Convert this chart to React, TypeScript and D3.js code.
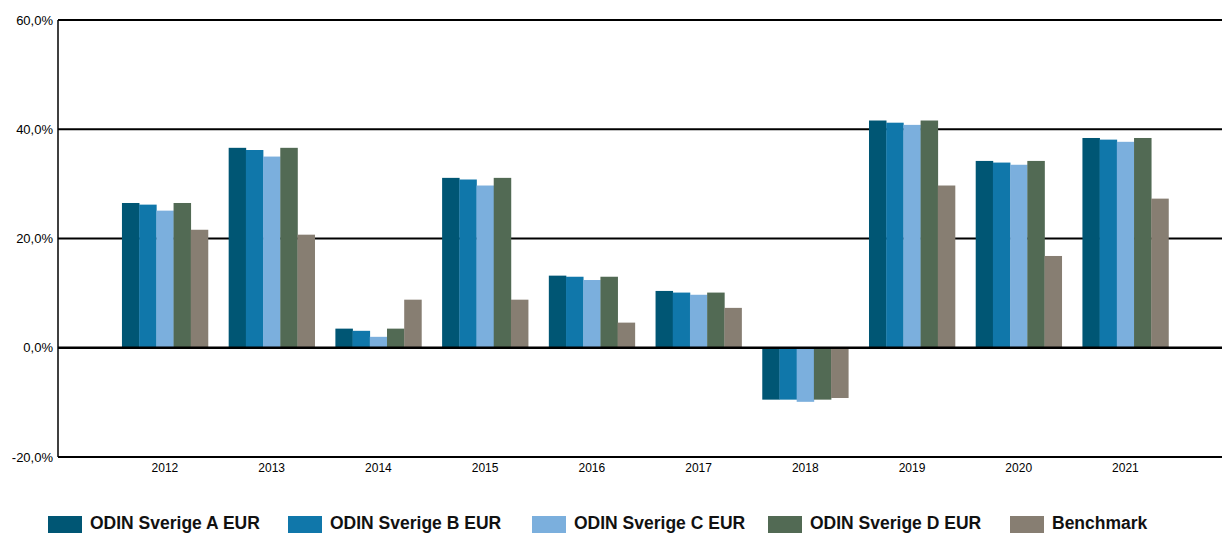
import React from "react";
import * as d3 from "d3";

const years = ["2012", "2013", "2014", "2015", "2016", "2017", "2018", "2019", "2020", "2021"];
const seriesNames = ["ODIN Sverige A EUR", "ODIN Sverige B EUR", "ODIN Sverige C EUR", "ODIN Sverige D EUR", "Benchmark"];
const seriesColors = ["#005674", "#1077AA", "#7BAFDD", "#526A54", "#877E72"];
const sverigeA = [26.5, 36.6, 3.5, 31.1, 13.2, 10.4, -9.5, 41.6, 34.2, 38.4];
const sverigeB = [26.2, 36.2, 3.1, 30.8, 13.0, 10.1, -9.5, 41.2, 33.9, 38.1];
const sverigeC = [25.1, 35.0, 2.0, 29.7, 12.4, 9.7, -9.9, 40.8, 33.5, 37.7];
const sverigeD = [26.5, 36.6, 3.5, 31.1, 13.0, 10.1, -9.5, 41.6, 34.2, 38.4];
const benchmark = [21.6, 20.7, 8.8, 8.8, 4.6, 7.3, -9.2, 29.7, 16.8, 27.3];
const yTicks = [-20, 0, 20, 40, 60];

const W = 1222;
const H = 533;

export default function App() {
  const series = [sverigeA, sverigeB, sverigeC, sverigeD, benchmark];
  const y = d3.scaleLinear().domain([-20, 60]).range([457, 20]);
  const x0 = d3.scaleBand<string>().domain(years).range([111.6, 1178.8]).paddingInner(0.194).paddingOuter(0.097);
  const x1 = d3.scaleBand<number>().domain(d3.range(series.length)).range([0, x0.bandwidth()]);
  const fmt = (v: number) => v.toFixed(1).replace(".", ",") + "%";
  const plotLeft = 58;
  const plotRight = W;

  const legendX = [48, 288, 532, 768, 1010];

  return (
    <svg width={W} height={H} style={{ position: "absolute", left: 0, top: 0, background: "#fff" }}
      fontFamily="'Liberation Sans', Arial, sans-serif">
      {/* grid lines (behind bars) */}
      {yTicks.filter((t) => t !== 0).map((t) => (
        <line key={t} x1={plotLeft} x2={plotRight} y1={y(t)} y2={y(t)} stroke="#000" strokeWidth={1.8} />
      ))}
      {/* bars */}
      {years.map((yr, i) => (
        <g key={yr} transform={`translate(${x0(yr)},0)`}>
          {series.map((s, j) => {
            const v = s[i];
            const yv = y(v);
            const y0 = y(0);
            return (
              <rect key={j} x={x1(j)} width={x1.bandwidth() + 0.3} y={Math.min(yv, y0)} height={Math.abs(yv - y0)} fill={seriesColors[j]} />
            );
          })}
        </g>
      ))}
      {/* zero line and axis */}
      <line x1={plotLeft} x2={plotRight} y1={y(0)} y2={y(0)} stroke="#000" strokeWidth={2.6} />
      <line x1={plotLeft} x2={plotLeft} y1={y(60)} y2={y(-20)} stroke="#000" strokeWidth={1.5} />
      {/* y labels */}
      {yTicks.map((t) => (
        <text key={t} x={53} y={y(t)} dy="0.35em" textAnchor="end" fontSize={13} fill="#000">{fmt(t)}</text>
      ))}
      {/* x labels */}
      {years.map((yr) => (
        <text key={yr} x={(x0(yr) as number) + x0.bandwidth() / 2} y={472} textAnchor="middle" fontSize={12} fill="#000">{yr}</text>
      ))}
      {/* legend */}
      {seriesNames.map((n, j) => (
        <g key={n}>
          <rect x={legendX[j]} y={516} width={34} height={17} fill={seriesColors[j]} />
          <text x={legendX[j] + 42} y={529} fontSize={17.5} fontWeight="bold" fill="#111"
            fontFamily="'Liberation Sans', Arial, sans-serif">{n}</text>
        </g>
      ))}
    </svg>
  );
}
